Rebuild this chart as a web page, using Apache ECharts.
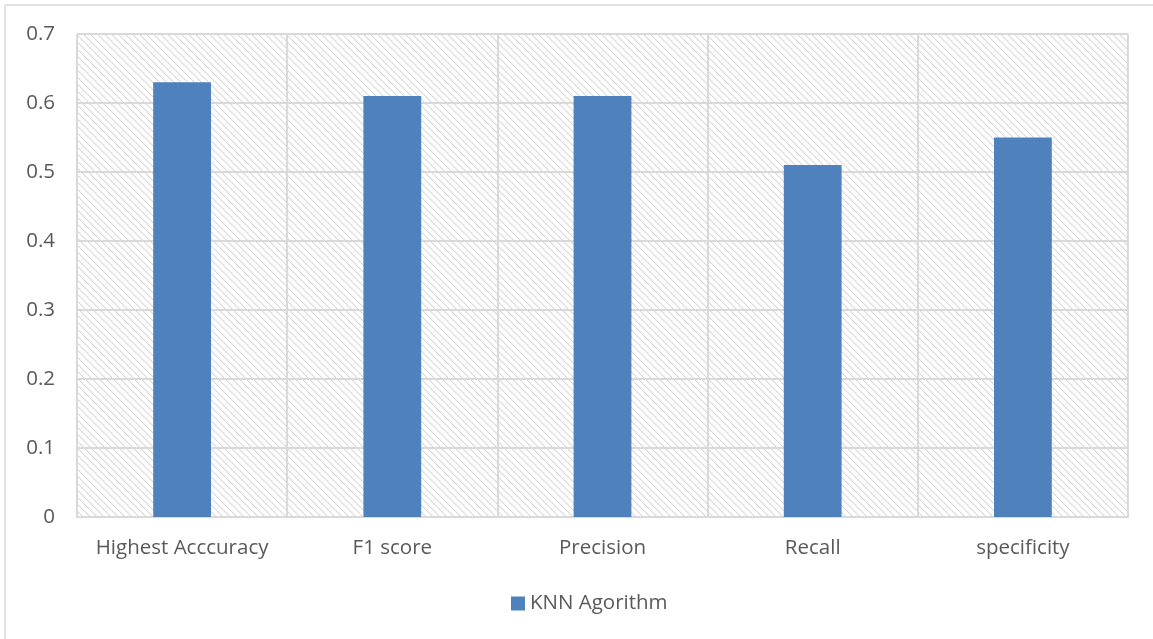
<!DOCTYPE html>
<html>
<head>
<meta charset="utf-8">
<script src="https://cdn.jsdelivr.net/npm/echarts@6/dist/echarts.min.js"></script>
<style>
  html, body { margin: 0; padding: 0; background: #fff; }
  #chart { width: 1153px; height: 639px; }
</style>
</head>
<body>
<div id="chart"></div>
<script>
// Metric names and scores for the KNN model
const categories = ['Highest Acccuracy', 'F1 score', 'Precision', 'Recall', 'specificity'];
const knnScores = [0.63, 0.61, 0.61, 0.51, 0.55];
const seriesName = 'KNN Agorithm';

// Light diagonal hatch used as the plot background
function makeHatch() {
  const size = 7;
  const c = document.createElement('canvas');
  c.width = size; c.height = size;
  const ctx = c.getContext('2d');
  ctx.fillStyle = '#ffffff';
  ctx.fillRect(0, 0, size, size);
  for (let i = 0; i < size; i++) {
    ctx.fillStyle = '#d8d8d8';
    ctx.fillRect(i, i, 1, 1);
    ctx.fillStyle = '#f0f0f0';
    ctx.fillRect((i + 1) % size, i, 1, 1);
  }
  return c;
}

const chart = echarts.init(document.getElementById('chart'));
const textColor = '#595959';
const lineColor = '#d9d9d9';

chart.setOption({
  animation: false,
  textStyle: { fontFamily: 'Open Sans' },
  graphic: [
    { type: 'line', shape: { x1: 5, y1: 5, x2: 1153, y2: 5 }, style: { stroke: lineColor, lineWidth: 1.5 } },
    { type: 'line', shape: { x1: 5, y1: 5, x2: 5, y2: 639 }, style: { stroke: lineColor, lineWidth: 1.5 } }
  ],
  grid: {
    left: 77, right: 25, top: 34, bottom: 122,
    show: true,
    borderWidth: 0,
    backgroundColor: { image: makeHatch(), repeat: 'repeat' }
  },
  legend: {
    bottom: 20,
    left: 506,
    itemWidth: 14, itemHeight: 14,
    itemGap: 6,
    icon: 'rect',
    textStyle: { color: textColor, fontSize: 20.5, fontFamily: 'Open Sans' },
    data: [seriesName]
  },
  xAxis: {
    type: 'category',
    data: categories,
    axisLine: { show: true, lineStyle: { color: lineColor, width: 2 } },
    axisTick: { show: false },
    splitLine: { show: true, interval: 0, lineStyle: { color: lineColor, width: 2 } },
    axisLabel: { color: textColor, fontSize: 20.5, margin: 21, interval: 0, fontFamily: 'Open Sans' }
  },
  yAxis: {
    type: 'value',
    min: 0, max: 0.7, interval: 0.1,
    axisLine: { show: false },
    axisTick: { show: false },
    splitLine: { show: true, lineStyle: { color: lineColor, width: 2 } },
    axisLabel: {
      color: textColor, fontSize: 20.5, margin: 22, fontFamily: 'Open Sans',
      formatter: v => (Math.round(v * 10) / 10).toString()
    }
  },
  series: [{
    name: seriesName,
    type: 'bar',
    data: knnScores,
    barWidth: '27.5%',
    itemStyle: { color: '#4f81bd' }
  }]
});
</script>
</body>
</html>
